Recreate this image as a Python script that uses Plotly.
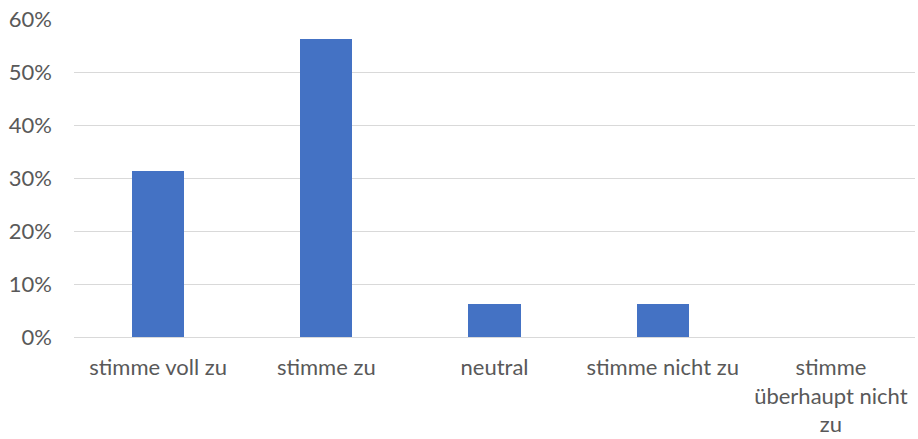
import plotly.graph_objects as go

# Survey responses (share of respondents)
categories = ["stimme voll zu", "stimme zu", "neutral", "stimme nicht zu",
              "stimme<br>überhaupt nicht<br>zu"]
shares = [0.3125, 0.5625, 0.0625, 0.0625, 0.0]
y_ticks = [0, 0.1, 0.2, 0.3, 0.4, 0.5, 0.6]

fig = go.Figure(
    go.Bar(
        x=categories,
        y=shares,
        marker=dict(color="#4472C4", line=dict(width=0)),
        width=0.31,
    )
)

fig.update_layout(
    width=918,
    height=439,
    margin=dict(l=74, r=3, t=19, b=102),
    paper_bgcolor="white",
    plot_bgcolor="white",
    font=dict(family="Lato, Carlito, Calibri, sans-serif", size=22, color="#595959"),
    showlegend=False,
    bargap=0,
)

fig.update_xaxes(
    showgrid=False,
    showline=False,
    ticks="",
    tickangle=0,
    ticklabelstandoff=15,
)

fig.update_yaxes(
    range=[0, 0.6],
    tickvals=y_ticks,
    tickformat=".0%",
    showgrid=True,
    gridcolor="#D9D9D9",
    gridwidth=1,
    zeroline=True,
    zerolinecolor="#D9D9D9",
    zerolinewidth=1,
    showline=False,
    ticks="",
    ticklabelstandoff=21,
)

fig.write_html("out.html")
